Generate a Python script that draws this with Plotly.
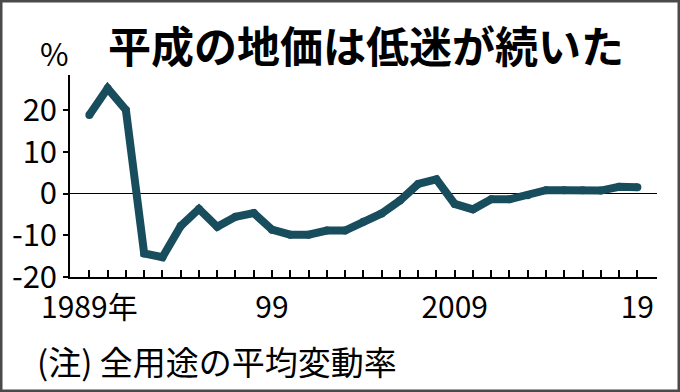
import plotly.graph_objects as go

years = list(range(1989, 2020))
change = [18.9, 25.3, 20.1, -14.4, -15.3, -7.8, -3.7, -8.0, -5.6, -4.7,
          -8.7, -9.9, -9.9, -8.9, -8.9, -6.8, -4.8, -1.7, 2.3, 3.4,
          -2.5, -3.8, -1.4, -1.4, -0.4, 0.8, 0.8, 0.8, 0.7, 1.6, 1.5]

x_label_years = {1989: "1989年", 1999: "99", 2009: "2009", 2019: "19"}
x_tickvals = years
x_ticktext = [x_label_years.get(y, "") for y in years]

y_tickvals = [-20, -10, 0, 10, 20]
y_ticktext = ["-20", "-10", "0", "10", "20"]

title_text = "平成の地価は低迷が続いた"
unit_text = "%"
note_text = "(注) 全用途の平均変動率"

W, H = 680, 392
NUM = "Noto Sans CJK JP"
CJK = "Noto Sans CJK JP"
LINE_COLOR = "#184d5e"

fig = go.Figure()
fig.add_trace(go.Scatter(
    x=years, y=change, mode="lines+markers",
    line=dict(color=LINE_COLOR, width=8),
    marker=dict(color=LINE_COLOR, size=8, line=dict(width=0)),
    hoverinfo="skip", showlegend=False,
))

fig.update_layout(
    template="none",
    width=W, height=H,
    margin=dict(l=0, r=0, t=0, b=0),
    paper_bgcolor="white", plot_bgcolor="white",
    xaxis=dict(
        domain=[70 / W, 656.7 / W],
        range=[1987.94, 2020.06],
        automargin=False,
        showgrid=False, zeroline=False,
        showline=True, linecolor="black", linewidth=2,
        ticks="inside", ticklen=7, tickwidth=1.5, tickcolor="black",
        tickvals=x_tickvals, ticktext=x_ticktext,
        tickfont=dict(family=NUM, size=30, color="black"),
        ticklabelstandoff=3,
        fixedrange=True,
    ),
    yaxis=dict(
        domain=[1 - 276.7 / H, 1 - 75 / H],
        range=[-20, 28.5],
        automargin=False,
        showgrid=False,
        zeroline=True, zerolinecolor="black", zerolinewidth=1.3,
        showline=True, linecolor="black", linewidth=1.5,
        ticks="outside", ticklen=5, tickwidth=1.5, tickcolor="black",
        tickvals=y_tickvals, ticktext=y_ticktext,
        tickfont=dict(family=NUM, size=31, color="black"),
        ticklabelstandoff=0,
        fixedrange=True,
    ),
    annotations=[
        dict(text=title_text, x=366 / W, y=1 - 44 / H, xref="paper", yref="paper",
             xanchor="center", yanchor="middle", showarrow=False,
             font=dict(family=CJK, size=43, color="black", weight="bold")),
        dict(text=unit_text, x=54 / W, y=1 - 52 / H, xref="paper", yref="paper",
             xanchor="center", yanchor="middle", showarrow=False,
             font=dict(family=NUM, size=31, color="black")),
        dict(text=note_text, x=35 / W, y=1 - 361 / H, xref="paper", yref="paper",
             xanchor="left", yanchor="middle", showarrow=False,
             font=dict(family=CJK, size=33, color="black")),
    ],
    shapes=[
        dict(type="rect", xref="paper", yref="paper", x0=0, y0=0, x1=1, y1=1,
             line=dict(color="#4a4a4a", width=5), fillcolor="rgba(0,0,0,0)",
             layer="above"),
    ],
)

fig.write_html("out.html", config={"displayModeBar": False},
               post_script="document.body.style.margin='0';")
